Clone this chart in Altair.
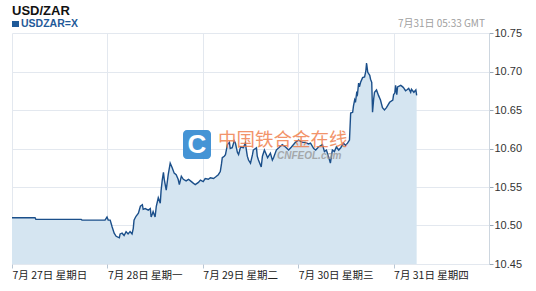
import altair as alt
import pandas as pd

# hours since 2014-07-27 00:00 GMT
hours = [0, 5.8, 6.0, 17.4, 17.6, 23.4, 23.9, 24.2, 24.7, 25.2, 25.7, 26.2, 27.0, 27.2, 27.7, 28.2,
         28.7, 29.2, 29.7, 30.2, 30.5, 30.7, 31.0, 31.2, 31.8, 32.3, 32.8, 33.0, 33.5, 34.3, 34.8,
         35.0, 35.3, 35.5, 36.0, 36.3, 36.8, 37.3, 37.5, 37.8, 38.1, 38.3, 38.8, 39.3, 39.8, 40.3,
         40.8, 41.3, 41.8, 42.1, 42.6, 43.1, 43.8, 44.4, 44.9, 45.6, 46.1, 46.9, 47.4, 48.1, 48.6,
         49.4, 49.9, 50.7, 51.2, 51.9, 52.4, 52.7, 52.9, 53.4, 53.7, 54.2, 54.7, 54.9, 55.4, 55.9,
         56.2, 56.7, 57.0, 57.5, 58.2, 58.7, 59.2, 59.5, 60.0, 60.5, 60.7, 61.5, 61.7, 62.0, 62.7,
         63.0, 63.5, 64.0, 64.3, 65.0, 65.5, 65.8, 66.5, 67.3, 68.0, 68.8, 69.6, 70.3, 71.3, 72.1,
         73.1, 73.8, 74.6, 75.1, 75.9, 76.4, 77.1, 78.1, 78.6, 79.1, 79.6, 80.1, 80.4, 80.6, 81.1,
         81.6, 82.2, 82.7, 83.4, 83.9, 84.4, 84.9, 85.2, 85.7, 85.9, 86.2, 86.4, 86.7, 86.9, 87.2,
         87.4, 87.7, 88.2, 88.7, 89.0, 89.2, 89.5, 90.0, 90.2, 90.5, 90.7, 91.0, 91.2, 91.7, 92.2,
         92.7, 93.2, 93.7, 94.2, 95.0, 95.8, 96.0, 96.3, 96.5, 96.8, 97.0, 97.8, 98.3, 98.5, 99.0,
         99.3, 99.8, 100.3, 100.5, 101.1, 101.6, 101.8]
rate = [10.510, 10.510, 10.508, 10.508, 10.507, 10.507, 10.511, 10.507, 10.507, 10.498, 10.490,
        10.486, 10.484, 10.489, 10.490, 10.487, 10.492, 10.489, 10.492, 10.489, 10.496, 10.507,
        10.510, 10.512, 10.516, 10.525, 10.527, 10.521, 10.522, 10.520, 10.522, 10.511, 10.515,
        10.518, 10.511, 10.525, 10.536, 10.529, 10.545, 10.559, 10.569, 10.560, 10.546, 10.566,
        10.581, 10.575, 10.568, 10.566, 10.560, 10.553, 10.564, 10.560, 10.558, 10.560, 10.558,
        10.555, 10.553, 10.556, 10.559, 10.557, 10.561, 10.560, 10.562, 10.561, 10.563, 10.566,
        10.570, 10.580, 10.588, 10.590, 10.592, 10.605, 10.608, 10.600, 10.601, 10.610, 10.607,
        10.595, 10.592, 10.602, 10.601, 10.607, 10.590, 10.585, 10.581, 10.592, 10.598, 10.601,
        10.590, 10.585, 10.576, 10.590, 10.598, 10.592, 10.588, 10.594, 10.585, 10.588, 10.598,
        10.602, 10.605, 10.602, 10.598, 10.602, 10.608, 10.611, 10.608, 10.608, 10.606, 10.607,
        10.600, 10.598, 10.602, 10.605, 10.596, 10.598, 10.590, 10.581, 10.592, 10.598, 10.596,
        10.602, 10.598, 10.601, 10.607, 10.604, 10.607, 10.611, 10.646, 10.647, 10.655, 10.663,
        10.660, 10.672, 10.670, 10.685, 10.680, 10.686, 10.692, 10.693, 10.700, 10.711, 10.699,
        10.695, 10.690, 10.686, 10.647, 10.665, 10.673, 10.676, 10.669, 10.663, 10.653, 10.650,
        10.653, 10.660, 10.663, 10.670, 10.672, 10.682, 10.670, 10.680, 10.682, 10.680, 10.679,
        10.675, 10.676, 10.678, 10.673, 10.677, 10.673, 10.676, 10.669]

day_ticks = [0, 24, 48, 72, 96]
day_labels = ["7月 27日 星期日", "7月 28日 星期一", "7月 29日 星期二", "7月 30日 星期三", "7月 31日 星期四"]
y_ticks = [10.45, 10.50, 10.55, 10.60, 10.65, 10.70, 10.75]

title_text = "USD/ZAR"
series_name = "USDZAR=X"
stamp_text = "7月31日 05:33 GMT"
wm_text = "中国铁合金在线"
wm_sub = "CNFEOL.com"

df = pd.DataFrame({"h": hours, "v": rate})

FONT = "Liberation Sans"
CJK = "Noto Sans CJK SC"

label_expr = "[" + ",".join("'%s'" % s for s in day_labels) + "][round(datum.value/24)]"

xs = alt.Scale(domain=[0, 120], nice=False, zero=False)
ys = alt.Scale(domain=[10.45, 10.75], nice=False, zero=False)

x_axis = alt.Axis(
    values=day_ticks, labelExpr=label_expr, grid=True, gridColor="#e3e8ef",
    domain=False, tickSize=4, tickColor="#b8c6d4", labelAlign="left", labelBaseline="top",
    labelPadding=2, labelFont=CJK, labelFontSize=10.5, labelColor="#222", title=None,
    labelOverlap=False, labelFlush=False)
y_axis = alt.Axis(
    orient="right", values=y_ticks, tickCount=7, format=".2f", grid=True, gridColor="#e3e8ef",
    domainColor="#cdd6df", tickColor="#9aa8b6", tickSize=4, labelPadding=1,
    labelOverlap=False, labelFlush=False,
    labelFont=FONT, labelFontSize=11, labelColor="#333", title=None)

area = alt.Chart(df).mark_area(color="#d5e5f1", opacity=1).encode(
    x=alt.X("h:Q", scale=xs, axis=x_axis),
    y=alt.Y("v:Q", scale=ys, axis=y_axis),
    y2=alt.datum(10.45))
line = alt.Chart(df).mark_line(color="#1b4f8a", strokeWidth=1.4).encode(
    x=alt.X("h:Q", scale=xs, axis=x_axis),
    y=alt.Y("v:Q", scale=ys, axis=y_axis))

base = alt.Chart(pd.DataFrame({"a": [0]}))
title = base.mark_text(text=title_text, font=FONT, fontSize=13, fontWeight="bold", align="left",
                       baseline="alphabetic", color="#111").encode(x=alt.value(0), y=alt.value(-18))
sq = base.mark_rect(color="#1f5a99").encode(x=alt.value(0), x2=alt.value(7), y=alt.value(-12), y2=alt.value(-6))
leg = base.mark_text(text=series_name, font=FONT, fontSize=10.5, fontWeight="bold", align="left",
                     baseline="alphabetic", color="#1f5a99").encode(x=alt.value(9), y=alt.value(-6))
stamp = base.mark_text(text=stamp_text, font=CJK, fontSize=10, align="right", baseline="alphabetic",
                       color="#a0a0a0").encode(x=alt.value(473), y=alt.value(-6))

logo = base.mark_rect(color="#3b8ed3", cornerRadius=4, opacity=0.95).encode(
    x=alt.value(171), x2=alt.value(199), y=alt.value(97), y2=alt.value(126))
logo_c = base.mark_text(text="C", font=FONT, fontSize=26, fontWeight="bold", align="center",
                        baseline="middle", color="white").encode(x=alt.value(185), y=alt.value(112))
wm = base.mark_text(text=wm_text, font=CJK, fontSize=18.5, align="left", baseline="middle",
                    color="#f07a45", opacity=0.8).encode(x=alt.value(206), y=alt.value(107))
wm2 = base.mark_text(text=wm_sub, font=FONT, fontSize=10, fontStyle="italic", fontWeight="bold",
                     align="left", baseline="middle", color="#999", opacity=0.8).encode(
    x=alt.value(265), y=alt.value(123))

chart = alt.layer(area, line, logo, logo_c, wm, wm2, title, sq, leg, stamp).properties(
    width=477, height=231, autosize=alt.AutoSizeParams(type="none"),
    padding={"left": 12, "top": 33, "right": 47, "bottom": 27},
    background="white"
).configure_view(stroke=None)

chart.save("out.html", embed_options={"renderer": "svg", "actions": False})
